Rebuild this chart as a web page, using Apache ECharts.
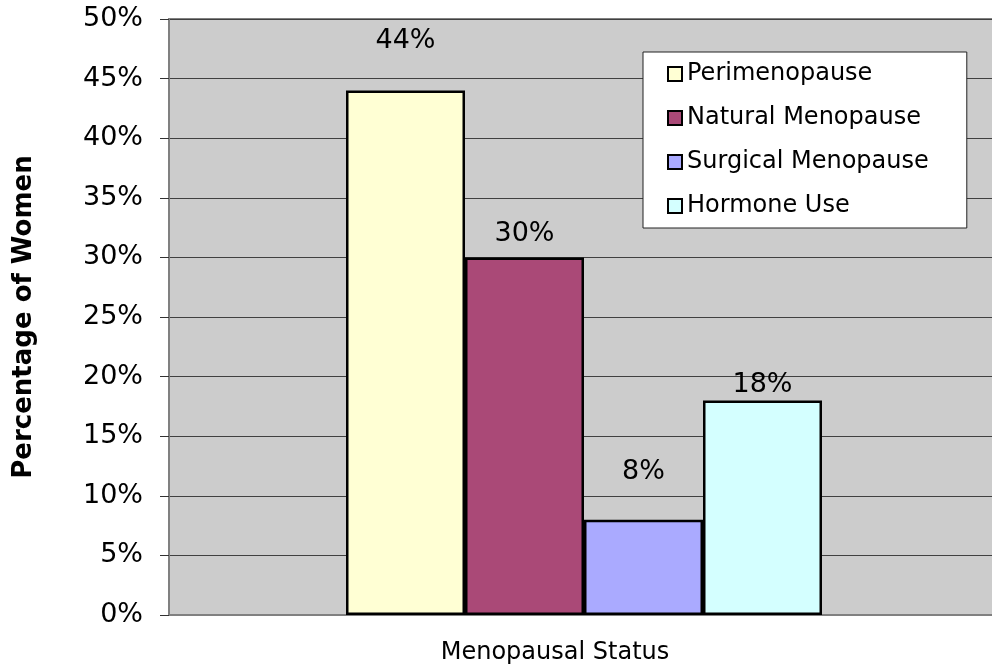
<!DOCTYPE html>
<html>
<head>
<meta charset="utf-8">
<script src="https://cdn.jsdelivr.net/npm/echarts@6/dist/echarts.min.js"></script>
<style>
html,body{margin:0;padding:0;background:#fff;}
#chart{width:992px;height:671px;}
</style>
</head>
<body>
<div id="chart"></div>
<script>
var categories = ['Menopausal Status'];
var seriesNames = ['Perimenopause', 'Natural Menopause', 'Surgical Menopause', 'Hormone Use'];
var perimenopause = [44];
var naturalMenopause = [30];
var surgicalMenopause = [8];
var hormoneUse = [18];
var yTicks = [0, 5, 10, 15, 20, 25, 30, 35, 40, 45, 50];

var seriesValues = [perimenopause, naturalMenopause, surgicalMenopause, hormoneUse];
var colors = ['#FFFFD4', '#AA4977', '#AAAAFF', '#D4FFFF'];
var labelDistances = [36, 10, 34, 2];
var FONT = '"DejaVu Sans", Verdana, sans-serif';

var chart = echarts.init(document.getElementById('chart'));
var option = {
  animation: false,
  textStyle: { fontFamily: FONT },
  grid: {
    left: 169, top: 19, width: 830, height: 596,
    show: true, backgroundColor: '#CCCCCC', borderColor: '#808080', borderWidth: 2,
    containLabel: false,
    outerBoundsMode: 'none'
  },
  legend: {
    orient: 'vertical',
    left: 643, top: 52,
    data: seriesNames,
    backgroundColor: '#FFFFFF',
    borderColor: '#222222', borderWidth: 1,
    padding: [10, 38, 10, 24],
    itemWidth: 14, itemHeight: 14, itemGap: 20,
    icon: 'rect',
    textStyle: { fontFamily: FONT, fontSize: 24, color: '#000', lineHeight: 24 }
  },
  xAxis: {
    type: 'category',
    data: categories,
    axisLine: { show: true, lineStyle: { color: '#808080', width: 2 } },
    axisTick: { show: false },
    axisLabel: { show: false },
    splitLine: { show: false }
  },
  yAxis: {
    type: 'value',
    min: yTicks[0], max: yTicks[yTicks.length - 1], interval: yTicks[1] - yTicks[0],
    name: 'Percentage of Women',
    nameLocation: 'middle',
    nameGap: 132,
    nameTextStyle: { fontFamily: FONT, fontSize: 26, fontWeight: 'bold', color: '#000' },
    axisLine: { show: true, lineStyle: { color: '#808080', width: 2 } },
    axisTick: { show: true, length: 9, inside: false, lineStyle: { color: '#333', width: 1 } },
    axisLabel: { formatter: '{value}%', fontFamily: FONT, fontSize: 27, color: '#000', margin: 26 },
    splitLine: { show: true, lineStyle: { color: '#404040', width: 1 } }
  },
  graphic: [{
    type: 'text',
    x: 555, y: 653,
    style: {
      text: categories[0],
      font: '24px ' + FONT,
      fill: '#000',
      textAlign: 'center',
      textVerticalAlign: 'middle'
    }
  }],
  series: seriesNames.map(function (name, i) {
    return {
      name: name,
      type: 'bar',
      data: seriesValues[i],
      barWidth: 119,
      barGap: '0%',
      itemStyle: { color: colors[i], borderColor: '#000', borderWidth: 2.5 },
      label: {
        show: true, position: 'top', distance: labelDistances[i],
        formatter: '{c}%', fontFamily: FONT, fontSize: 27, color: '#000'
      }
    };
  })
};
chart.setOption(option);
</script>
</body>
</html>
